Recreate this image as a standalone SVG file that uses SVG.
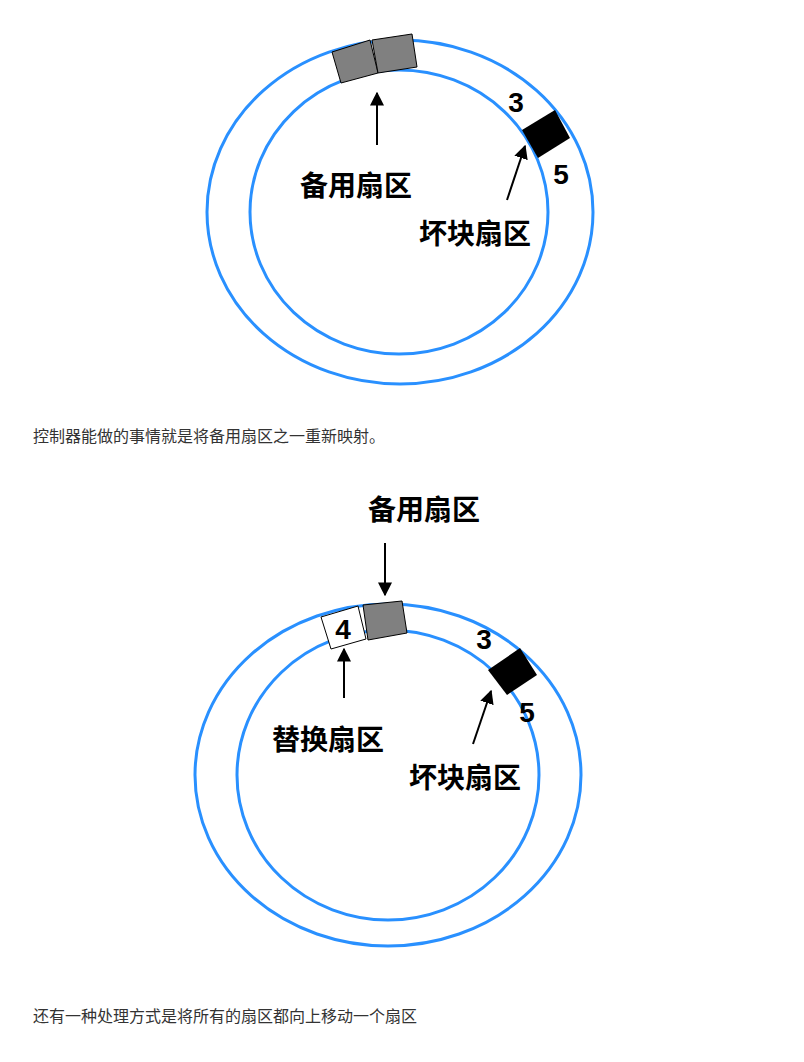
<svg xmlns="http://www.w3.org/2000/svg" width="804" height="1062" viewBox="0 0 804 1062">
<style>
.ring{fill:none;stroke:#2990ff;stroke-width:3}
.lb{font-family:"Liberation Sans","Noto Sans CJK SC",sans-serif;font-weight:bold;font-size:28px;fill:#000;text-anchor:middle}
.cap{font-family:"Liberation Sans","Noto Sans CJK SC",sans-serif;font-size:16px;fill:#333}
.ln{stroke:#000;stroke-width:2;fill:none}
</style>
<defs><marker id="ah" viewBox="0 0 10 10" refX="9" refY="5" markerWidth="7" markerHeight="7" orient="auto"><path d="M0,0L10,5L0,10z" fill="#000"/></marker></defs>
<rect width="804" height="1062" fill="#fff"/>
<g id="disk1">
<ellipse class="ring" cx="400" cy="212" rx="193" ry="172"/>
<ellipse class="ring" cx="399" cy="212" rx="149" ry="142"/>
</g>
<g id="spare1"><polygon points="332,52 370,40 378,73 341,83" fill="#808080" stroke="#000"/><polygon points="372,40 412,34 417,67 378,73" fill="#808080" stroke="#000"/></g>
<g id="bad1"><polygon points="522,130 555,110 570,138 538,158" fill="#000"/><text class="lb" x="516" y="112">3</text><text class="lb" x="561" y="184">5</text></g>
<g id="connectors">
<line class="ln" x1="377" y1="145" x2="377" y2="93" marker-end="url(#ah)"/>
<line class="ln" x1="507" y1="200" x2="525" y2="146" marker-end="url(#ah)"/>
<line class="ln" x1="385" y1="543" x2="385" y2="595" marker-end="url(#ah)"/>
<line class="ln" x1="344" y1="698" x2="344" y2="649" marker-end="url(#ah)"/>
<line class="ln" x1="473" y1="744" x2="491" y2="691" marker-end="url(#ah)"/>
</g>
<g id="labels1"><text class="lb" x="356" y="196">备用扇区</text><text class="lb" x="475" y="244">坏块扇区</text></g>
<text class="cap" x="33" y="442">控制器能做的事情就是将备用扇区之一重新映射。</text>
<g id="disk2">
<ellipse class="ring" cx="388" cy="775" rx="193" ry="171"/>
<ellipse class="ring" cx="388" cy="775" rx="151" ry="145"/>
</g>
<g id="replaced"><polygon points="321,617 358,606 366,639 331,649" fill="#fff" stroke="#000"/><text class="lb" x="343" y="639">4</text></g>
<g id="spare2"><polygon points="363,605 402,601 407,633 368,640" fill="#808080" stroke="#000"/></g>
<g id="bad2"><polygon points="488,670 520,648 537,675 507,695" fill="#000"/><text class="lb" x="484" y="649">3</text><text class="lb" x="527" y="722">5</text></g>
<g id="labels2"><text class="lb" x="424" y="520">备用扇区</text><text class="lb" x="328" y="750">替换扇区</text><text class="lb" x="465" y="788">坏块扇区</text></g>
<text class="cap" x="33" y="1022">还有一种处理方式是将所有的扇区都向上移动一个扇区</text>
</svg>
